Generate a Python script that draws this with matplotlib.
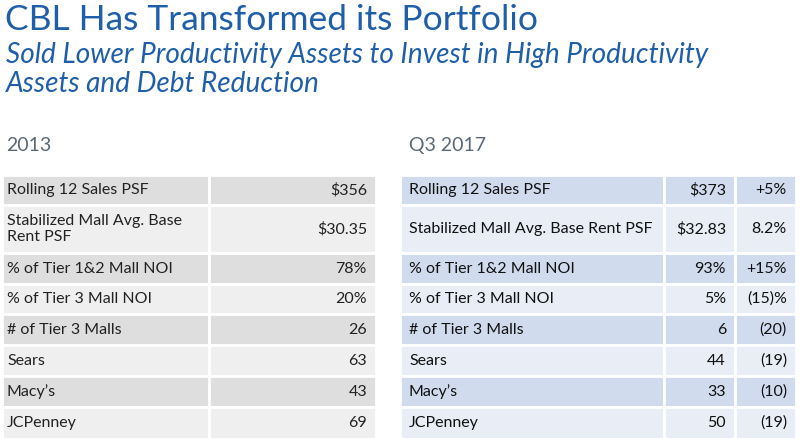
import matplotlib
matplotlib.use("Agg")
import matplotlib.pyplot as plt
from matplotlib.patches import Rectangle

labels_2013 = ["Rolling 12 Sales PSF", "Stabilized Mall Avg. Base\nRent PSF", "% of Tier 1&2 Mall NOI",
               "% of Tier 3 Mall NOI", "# of Tier 3 Malls", "Sears", "Macy\u2019s", "JCPenney"]
values_2013 = ["$356", "$30.35", "78%", "20%", "26", "63", "43", "69"]
labels_2017 = ["Rolling 12 Sales PSF", "Stabilized Mall Avg. Base Rent PSF", "% of Tier 1&2 Mall NOI",
               "% of Tier 3 Mall NOI", "# of Tier 3 Malls", "Sears", "Macy\u2019s", "JCPenney"]
values_2017 = ["$373", "$32.83", "93%", "5%", "6", "44", "33", "50"]
change_2017 = ["+5%", "8.2%", "+15%", "(15)%", "(20)", "(19)", "(10)", "(19)"]

W, H = 802, 444
fig = plt.figure(figsize=(W/100, H/100), dpi=100)
ax = fig.add_axes([0, 0, 1, 1])
ax.set_xlim(0, W); ax.set_ylim(H, 0); ax.axis("off")
plt.rcParams['font.family'] = ['Lato', 'DejaVu Sans']

blue = "#1f5ea8"
ax.text(5, 20, "CBL Has Transformed its Portfolio", fontsize=25.5, color=blue, va="center")
ax.text(6, 55, "Sold Lower Productivity Assets to Invest in High Productivity", fontsize=20.2, color=blue, va="center", style="italic")
ax.text(6, 84, "Assets and Debt Reduction", fontsize=20.2, color=blue, va="center", style="italic")
ax.text(6, 145, "2013", fontsize=14, color="#5a6878", va="center")
ax.text(409, 145, "Q3 2017", fontsize=14, color="#5a6878", va="center")

bounds = [(175, 205), (205, 253), (253, 284), (284, 314), (314, 345), (345, 376), (376, 407), (407, 439)]
fs = 11.5
for i, (t, b) in enumerate(bounds):
    lc = "#dedede" if i % 2 == 0 else "#efefef"
    rc = "#d0dcee" if i % 2 == 0 else "#e8edf6"
    ax.add_patch(Rectangle((2, t), 207, b - t, fc=lc, ec="white", lw=2))
    ax.add_patch(Rectangle((209, t), 167, b - t, fc=lc, ec="white", lw=2))
    ax.add_patch(Rectangle((400, t), 264, b - t, fc=rc, ec="white", lw=2))
    ax.add_patch(Rectangle((664, t), 71, b - t, fc=rc, ec="white", lw=2))
    ax.add_patch(Rectangle((735, t), 61, b - t, fc=rc, ec="white", lw=2))
    m = (t + b) / 2
    ax.text(7, m, labels_2013[i], fontsize=fs, va="center", color="#222222", linespacing=1.15)
    ax.text(367, m, values_2013[i], fontsize=fs, va="center", ha="right", color="#222222")
    ax.text(409, m, labels_2017[i], fontsize=fs, va="center", color="#111111")
    ax.text(726, m, values_2017[i], fontsize=fs, va="center", ha="right", color="#111111")
    ax.text(787, m, change_2017[i], fontsize=fs, va="center", ha="right", color="#111111")

fig.savefig("out.png", dpi=100)
